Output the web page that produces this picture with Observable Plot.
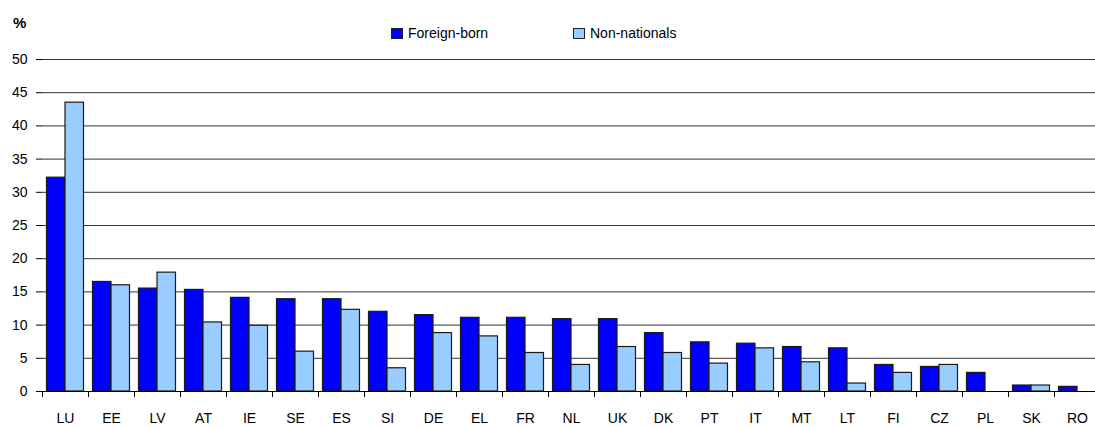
<!DOCTYPE html>
<html>
<head>
<meta charset="utf-8">
<script src="https://cdn.jsdelivr.net/npm/d3@7"></script>
<script src="https://cdn.jsdelivr.net/npm/@observablehq/plot@0.6"></script>
<style>
  html, body { margin: 0; padding: 0; background: #fff; overflow: hidden; }
  body { font-family: "Liberation Sans", Arial, sans-serif; width: 1095px; height: 427px; }
  #head { position: relative; height: 48px; }
  #head .t { position: absolute; font-size: 14px; line-height: 14px; color: #000; white-space: nowrap; }
  #head .sw { position: absolute; width: 10px; height: 9px; border: 1px solid #222; }
</style>
</head>
<body>
<div id="head"></div>
<div id="chart"></div>
<script>
const countries = ["LU","EE","LV","AT","IE","SE","ES","SI","DE","EL","FR","NL","UK","DK","PT","IT","MT","LT","FI","CZ","PL","SK","RO"];
const foreignBorn = [32.2,16.5,15.5,15.3,14.1,13.9,13.9,12.0,11.5,11.1,11.1,10.9,10.9,8.8,7.4,7.2,6.7,6.5,4.0,3.7,2.8,0.9,0.7];
const nonNationals = [43.5,16.0,17.9,10.4,9.9,6.0,12.3,3.5,8.8,8.3,5.8,4.0,6.7,5.8,4.2,6.5,4.4,1.2,2.8,4.0,null,0.9,null];
const seriesNames = ["Foreign-born","Non-nationals"];
const seriesColors = ["#0000ff","#99ccff"];
const yTicks = [0,5,10,15,20,25,30,35,40,45,50];
const yUnit = "%";

const fontFamily = '"Liberation Sans", Arial, sans-serif';

// header: unit label and legend
const head = document.getElementById("head");
const unit = document.createElement("div");
unit.className = "t";
unit.textContent = yUnit;
Object.assign(unit.style, {left: "13px", top: "15px", fontWeight: "bold", fontSize: "15px", lineHeight: "15px"});
head.appendChild(unit);
const legendX = [391, 573];
seriesNames.forEach((name, i) => {
  const sw = document.createElement("div");
  sw.className = "sw";
  Object.assign(sw.style, {left: legendX[i] + "px", top: "28px", background: seriesColors[i]});
  head.appendChild(sw);
  const t = document.createElement("div");
  t.className = "t";
  t.textContent = name;
  Object.assign(t.style, {left: (legendX[i] + 17) + "px", top: "26px"});
  head.appendChild(t);
});

const rows = countries.map((c, i) => ({country: c, fb: foreignBorn[i], nn: nonNationals[i]}));

const width = 1100, marginLeft = 42, marginRight = 0;
const bw = (width - marginLeft - marginRight) / countries.length;
const pad = 4.5;
const barW = (bw - 2 * pad) / 2;

const chart = Plot.plot({
  width,
  height: 379,
  marginLeft,
  marginRight,
  marginTop: 11,
  marginBottom: 36,
  style: {fontFamily, fontSize: "14px", maxWidth: "none", overflow: "visible", background: "#fff"},
  x: {domain: countries, padding: 0, label: null},
  y: {domain: [0, 50], label: null},
  marks: [
    Plot.gridY(yTicks.filter(d => d > 0), {stroke: "#333", strokeOpacity: 1, strokeWidth: 1}),
    Plot.barY(rows.filter(d => d.fb != null), {x: "country", y: "fb", fill: seriesColors[0], stroke: "#1a1a1a", strokeWidth: 1.2, insetLeft: pad, insetRight: pad + barW}),
    Plot.barY(rows.filter(d => d.nn != null), {x: "country", y: "nn", fill: seriesColors[1], stroke: "#1a1a1a", strokeWidth: 1.2, insetLeft: pad + barW, insetRight: pad}),
    Plot.ruleY([0], {stroke: "#000", strokeWidth: 1}),
    Plot.axisY({ticks: yTicks, tickSize: 6, tickPadding: 9, fontSize: 14, line: true, stroke: "#000", label: null}),
    Plot.axisX({tickSize: 6, text: null, dx: -bw / 2, stroke: "#000", label: null}),
    Plot.axisX({tickSize: 0, tickPadding: 22, fontSize: 14, label: null})
  ]
});
document.getElementById("chart").appendChild(chart);
</script>
</body>
</html>
